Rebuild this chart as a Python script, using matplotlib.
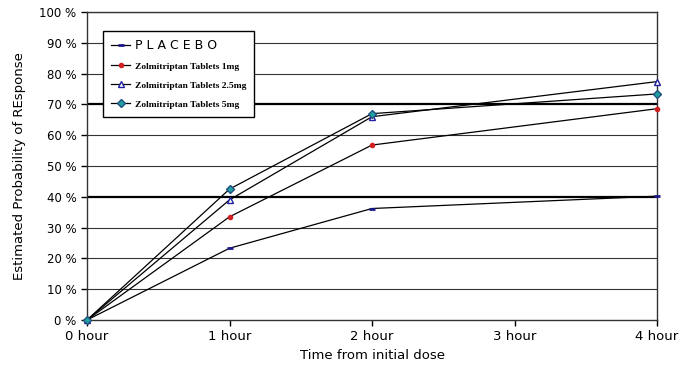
import matplotlib
matplotlib.use("Agg")
import matplotlib.pyplot as plt
import numpy as np

hours = [0, 1, 2, 4]
hour_labels = ["0 hour", "1 hour", "2 hour", "3 hour", "4 hour"]
placebo = [0, 23.3, 36.2, 40.2]
zol_1mg = [0, 33.5, 56.8, 68.6]
zol_25mg = [0, 39.0, 66.0, 77.4]
zol_5mg = [0, 42.5, 67.0, 73.4]

plt.rcParams['font.family'] = ['DejaVu Sans']

fig = plt.figure(figsize=(6.81, 3.81), dpi=100)
ax = fig.add_axes([87/681, 1 - 320/381, 570/681, 308/381])

# gridlines, two of them drawn heavier like in the original
for g in range(10, 101, 10):
    lw = 1.6 if g in (40, 70) else 0.8
    ax.axhline(g, color="black" if g in (40, 70) else "#333333", lw=lw, zorder=1)

kw = dict(color="black", lw=0.9, zorder=3, clip_on=False)
ax.plot(hours, placebo, marker="_", ms=5, mew=2, mec="#1a1a8c",
        label="P L A C E B O", **kw)
ax.plot(hours, zol_1mg, marker="o", ms=3, mec="#d02020", mfc="#d02020",
        label="Zolmitriptan Tablets 1mg", **kw)
ax.plot(hours, zol_25mg, marker="^", ms=5, mfc="white", mec="#2020a0",
        label="Zolmitriptan Tablets 2.5mg", **kw)
ax.plot(hours, zol_5mg, marker="D", ms=4, mfc="#20a0a0", mec="#205080",
        label="Zolmitriptan Tablets 5mg", **kw)

ax.set_xlim(0, 4)
ax.set_ylim(0, 100)
ax.set_xticks(range(5))
ax.set_xticklabels(hour_labels, fontsize=9.5)
ax.set_yticks(range(0, 101, 10))
ax.set_yticklabels(["%d %%" % v for v in range(0, 101, 10)], fontsize=8.5)
ax.tick_params(direction="out", length=4, width=1)
for s in ax.spines.values():
    s.set_color("#333333")
    s.set_linewidth(1)

ax.set_xlabel("Time from initial dose", fontsize=9.5, labelpad=4)
ax.set_ylabel("Estimated Probability of REsponse", fontsize=9.5, labelpad=10)

leg = ax.legend(loc="upper left", bbox_to_anchor=(16/570, 289/308), borderaxespad=0,
                frameon=True, fancybox=False, edgecolor="black", framealpha=1,
                handlelength=2.0, handletextpad=0.5, borderpad=0.8,
                labelspacing=1.05, fontsize=7)
for i, t in enumerate(leg.get_texts()):
    if i == 0:
        t.set_fontsize(9)
    else:
        t.set_family(["Liberation Serif", "DejaVu Serif"])
        t.set_fontweight("bold")
        t.set_fontsize(6.8)
leg.get_frame().set_linewidth(1)
leg.set_zorder(5)

fig.savefig("out.png", dpi=100)
